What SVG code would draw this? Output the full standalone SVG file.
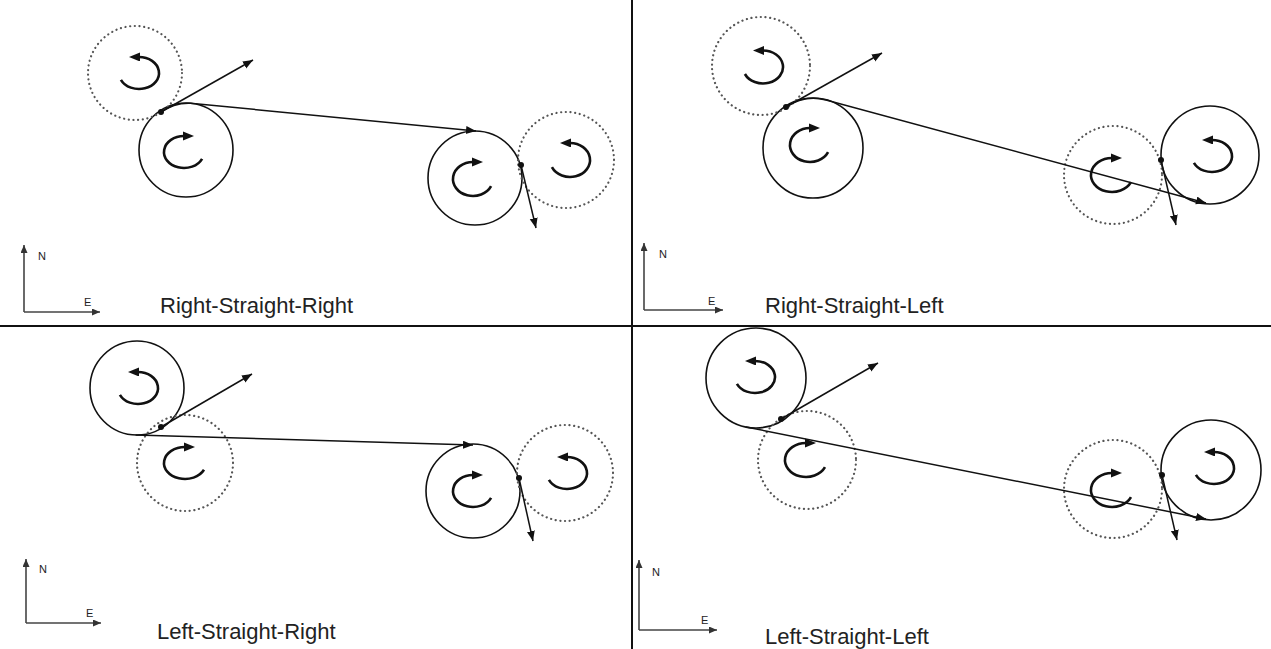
<svg xmlns="http://www.w3.org/2000/svg" width="1271" height="649" viewBox="0 0 1271 649">
<defs>
<marker id="ah" markerUnits="userSpaceOnUse" markerWidth="12" markerHeight="10" refX="10" refY="4" orient="auto"><path d="M0,0 L10,4 L0,8 Z" fill="#111"/></marker>
<marker id="ahc" markerUnits="userSpaceOnUse" markerWidth="14" markerHeight="12" refX="1" refY="4.5" orient="auto"><path d="M0,0 L11,4.5 L0,9 Z" fill="#111"/></marker>
<marker id="ahs" markerUnits="userSpaceOnUse" markerWidth="10" markerHeight="8" refX="8" refY="3.5" orient="auto"><path d="M0,0 L8,3.5 L0,7 Z" fill="#333"/></marker>
</defs>
<style>
.solid{fill:none;stroke:#111;stroke-width:1.6}
.dotted{fill:none;stroke:#555;stroke-width:2.2;stroke-dasharray:0.1 4.6;stroke-linecap:round}
.curl{fill:none;stroke:#111;stroke-width:2.6;marker-end:url(#ahc)}
.conn{fill:none;stroke:#111;stroke-width:1.5;marker-end:url(#ah)}
.dot{fill:#111}
.axis{fill:none;stroke:#444;stroke-width:1.6;marker-end:url(#ahs)}
.divider{stroke:#111;stroke-width:2}
.lbl{font-family:"Liberation Sans",Arial,sans-serif;font-size:22px;fill:#222}
.ax{font-family:"Liberation Sans",Arial,sans-serif;font-size:11px;fill:#222}
</style>
<rect width="1271" height="649" fill="#fff"/>
<g id="dividers">
<line class="divider" x1="632" y1="0" x2="632" y2="649"/>
<line class="divider" x1="0" y1="326" x2="1271" y2="326"/>
</g>

<!-- Quadrant 1: Right-Straight-Right -->
<g id="q1-circleA"><circle class="solid" cx="186" cy="150" r="47"/><path class="curl" d="M202.1,158.8 A20,16 0 1 1 184,136"/></g>
<g id="q1-dottedA"><circle class="dotted" cx="135" cy="73" r="47"/><path class="curl" d="M120.9,79.8 A20,16 0 1 0 139,57"/></g>
<g id="q1-circleB"><circle class="solid" cx="475" cy="178" r="47"/><path class="curl" d="M491.1,186.2 A20,17 0 1 1 473,162"/></g>
<g id="q1-dottedB"><circle class="dotted" cx="566" cy="160" r="48"/><path class="curl" d="M551.9,167.2 A20,17 0 1 0 570,143"/></g>
<g id="q1-compass"><line class="axis" x1="24" y1="312" x2="24" y2="245"/><line class="axis" x1="24" y1="312" x2="100" y2="312"/><text class="ax" x="38" y="260">N</text><text class="ax" x="84" y="306">E</text></g>
<g id="q1-label"><text class="lbl" x="160" y="313">Right-Straight-Right</text></g>

<!-- Quadrant 2: Right-Straight-Left -->
<g id="q2-circleA"><circle class="solid" cx="813" cy="148" r="50"/><path class="curl" d="M828.1,152.2 A20,17 0 1 1 810,128"/></g>
<g id="q2-dottedA"><circle class="dotted" cx="761" cy="66" r="49"/><path class="curl" d="M744.9,74 A20,16.5 0 1 0 763,50.5"/></g>
<g id="q2-circleB"><circle class="solid" cx="1210" cy="155" r="49"/><path class="curl" d="M1193.9,162.8 A20,16 0 1 0 1212,140"/></g>
<g id="q2-dottedB"><circle class="dotted" cx="1113" cy="175" r="49"/><path class="curl" d="M1131,182.2 A21,17 0 1 1 1112,158"/></g>
<g id="q2-compass"><line class="axis" x1="644" y1="310" x2="644" y2="243"/><line class="axis" x1="644" y1="310" x2="723" y2="310"/><text class="ax" x="659" y="258">N</text><text class="ax" x="708" y="305">E</text></g>
<g id="q2-label"><text class="lbl" x="765" y="313">Right-Straight-Left</text></g>

<!-- Quadrant 3: Left-Straight-Right -->
<g id="q3-circleA"><circle class="solid" cx="137" cy="388" r="47"/><path class="curl" d="M119.9,394.8 A20,16 0 1 0 138,372"/></g>
<g id="q3-dottedA"><circle class="dotted" cx="185" cy="463" r="48"/><path class="curl" d="M204,469.8 A21,16 0 1 1 185,447"/></g>
<g id="q3-circleB"><circle class="solid" cx="473" cy="491" r="47"/><path class="curl" d="M491.1,497.8 A20,16 0 1 1 473,475"/></g>
<g id="q3-dottedB"><circle class="dotted" cx="565" cy="473" r="48"/><path class="curl" d="M548.9,479.8 A20,16 0 1 0 567,457"/></g>
<g id="q3-compass"><line class="axis" x1="26" y1="623" x2="26" y2="559"/><line class="axis" x1="26" y1="623" x2="101" y2="623"/><text class="ax" x="39" y="573">N</text><text class="ax" x="86" y="617">E</text></g>
<g id="q3-label"><text class="lbl" x="157" y="639">Left-Straight-Right</text></g>

<!-- Quadrant 4: Left-Straight-Left -->
<g id="q4-circleA"><circle class="solid" cx="756" cy="378" r="50"/><path class="curl" d="M736.9,383.8 A20,16 0 1 0 755,361"/></g>
<g id="q4-dottedA"><circle class="dotted" cx="807" cy="460" r="49"/><path class="curl" d="M825,467.2 A21,17 0 1 1 806,443"/></g>
<g id="q4-circleB"><circle class="solid" cx="1211" cy="470" r="50"/><path class="curl" d="M1195.9,474.8 A20,16 0 1 0 1214,452"/></g>
<g id="q4-dottedB"><circle class="dotted" cx="1113" cy="489" r="49"/><path class="curl" d="M1131,497.2 A21,17 0 1 1 1112,473"/></g>
<g id="q4-compass"><line class="axis" x1="639" y1="630" x2="639" y2="560"/><line class="axis" x1="639" y1="630" x2="717" y2="630"/><text class="ax" x="652" y="576">N</text><text class="ax" x="701" y="624">E</text></g>
<g id="q4-label"><text class="lbl" x="765" y="644">Left-Straight-Left</text></g>

<g id="connectors">
<path class="conn" d="M161,112 A47,47 0 0 1 190.5,103.2 L476,131"/>
<line class="conn" x1="161" y1="112" x2="253" y2="60"/>
<line class="conn" x1="521" y1="165" x2="536" y2="228"/>
<path class="conn" d="M786,107 A50,50 0 0 1 826,100 L1206,203"/>
<line class="conn" x1="786" y1="107" x2="882" y2="53"/>
<line class="conn" x1="1161" y1="160" x2="1176" y2="225"/>
<path class="conn" d="M135.6,435 L473,445"/>
<line class="conn" x1="161" y1="427" x2="252" y2="374"/>
<line class="conn" x1="519" y1="478" x2="533" y2="541"/>
<path class="conn" d="M746,427 L1206,519"/>
<line class="conn" x1="781" y1="419" x2="878" y2="363"/>
<line class="conn" x1="1162" y1="475" x2="1177" y2="540"/>
<circle class="dot" cx="161" cy="112" r="3"/>
<circle class="dot" cx="521" cy="165" r="3"/>
<circle class="dot" cx="786" cy="107" r="3"/>
<circle class="dot" cx="1161" cy="160" r="3"/>
<circle class="dot" cx="161" cy="427" r="3"/>
<circle class="dot" cx="519" cy="478" r="3"/>
<circle class="dot" cx="781" cy="419" r="3"/>
<circle class="dot" cx="1162" cy="475" r="3"/>
</g>
</svg>
